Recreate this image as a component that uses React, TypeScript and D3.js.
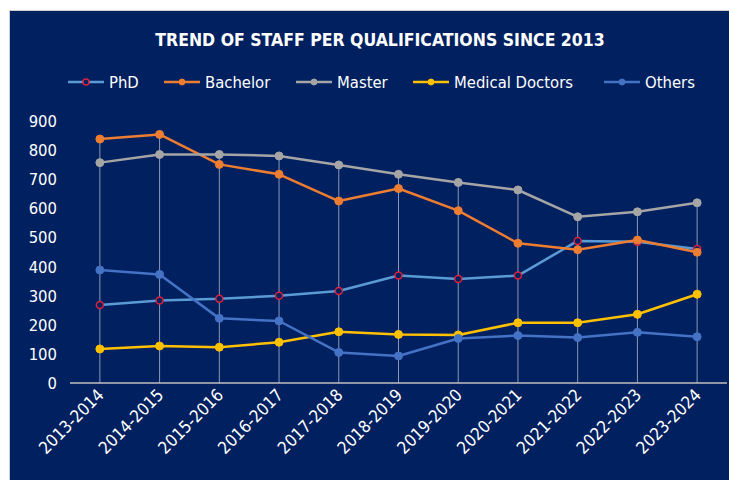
import { useRef, useEffect } from "react";
import * as d3 from "d3";

const years = [
  "2013-2014", "2014-2015", "2015-2016", "2016-2017", "2017-2018", "2018-2019",
  "2019-2020", "2020-2021", "2021-2022", "2022-2023", "2023-2024",
];
const phd = [268, 283, 289, 300, 316, 369, 357, 369, 488, 485, 460];
const bachelor = [838, 854, 751, 717, 625, 668, 592, 480, 458, 491, 449];
const master = [757, 785, 785, 780, 749, 717, 689, 663, 571, 588, 619];
const medical = [117, 127, 123, 140, 176, 167, 165, 207, 207, 236, 305];
const others = [388, 373, 222, 213, 105, 93, 153, 163, 156, 174, 159];
const yTicks = [0, 100, 200, 300, 400, 500, 600, 700, 800, 900];

const series = [
  { name: "PhD", values: phd, color: "#5B9BD5", hollow: true },
  { name: "Bachelor", values: bachelor, color: "#ED7D31", hollow: false },
  { name: "Master", values: master, color: "#A5A5A5", hollow: false },
  { name: "Medical Doctors", values: medical, color: "#FFC000", hollow: false },
  { name: "Others", values: others, color: "#4472C4", hollow: false },
];
const legendX = [68, 164, 296, 413, 604];

const font = "'Liberation Sans Narrow', 'DejaVu Sans Condensed', 'Liberation Sans', sans-serif";

function App() {
  const svgRef = useRef<SVGSVGElement>(null);

  useEffect(() => {
    const w = 729;
    const h = 480;
    const svg = d3.select(svgRef.current).attr("width", w).attr("height", h);
    svg.selectAll("*").remove();

    svg.append("rect").attr("width", w).attr("height", h).attr("fill", "#ffffff");
    svg.append("rect")
      .attr("x", 9.5).attr("y", 10.5)
      .attr("width", w - 9).attr("height", h - 10)
      .attr("fill", "#002060")
      .attr("stroke", "#d0d0d0");

    const x = d3.scaleBand().domain(years).range([70, 727]);
    const y = d3.scaleLinear().domain([0, 900]).range([383, 121]);
    const cx = (d: string) => (x(d) as number) + x.bandwidth() / 2;

    svg.append("text")
      .attr("x", 380).attr("y", 46)
      .attr("text-anchor", "middle")
      .attr("fill", "#ffffff")
      .style("font-family", font)
      .style("font-size", "17.5px")
      .style("font-weight", "bold")
      .text("TREND OF STAFF PER QUALIFICATIONS SINCE 2013");

    // legend
    series.forEach((s, i) => {
      const g = svg.append("g").attr("transform", `translate(${legendX[i]},82)`);
      g.append("line").attr("x1", 0).attr("x2", 36).attr("stroke", s.color).attr("stroke-width", 2.5);
      g.append("circle").attr("cx", 18).attr("r", 3)
        .attr("fill", s.hollow ? "#002060" : s.color)
        .attr("stroke", s.hollow ? "#E0203A" : s.color)
        .attr("stroke-width", s.hollow ? 1.5 : 1);
      g.append("text").attr("x", 41).attr("y", 6)
        .attr("fill", "#ffffff")
        .style("font-family", font)
        .style("font-size", "16.5px")
        .text(s.name);
    });

    // y tick labels
    svg.append("g").selectAll("text").data(yTicks).enter().append("text")
      .attr("x", 57).attr("y", d => y(d) + 6)
      .attr("text-anchor", "end")
      .attr("fill", "#ffffff")
      .style("font-family", font)
      .style("font-size", "16.5px")
      .text(d => d);

    // drop lines
    svg.append("g").selectAll("line").data(years).enter().append("line")
      .attr("x1", d => cx(d)).attr("x2", d => cx(d))
      .attr("y1", (d, i) => y(d3.max(series, s => s.values[i]) as number))
      .attr("y2", y(0))
      .attr("stroke", "#8C98B3").attr("stroke-width", 1);

    // x axis
    svg.append("line")
      .attr("x1", 70).attr("x2", 727)
      .attr("y1", y(0)).attr("y2", y(0))
      .attr("stroke", "#BFBFBF").attr("stroke-width", 1.5);

    svg.append("g").selectAll("text").data(years).enter().append("text")
      .attr("transform", d => `translate(${cx(d) + 5},${y(0) + 13}) rotate(-45)`)
      .attr("text-anchor", "end")
      .attr("fill", "#ffffff")
      .style("font-family", font)
      .style("font-size", "17px")
      .text(d => d);

    const line = d3.line<number>()
      .x((d, i) => cx(years[i]))
      .y(d => y(d));

    series.forEach(s => {
      svg.append("path")
        .datum(s.values)
        .attr("d", line)
        .attr("fill", "none")
        .attr("stroke", s.color)
        .attr("stroke-width", 2.5)
        .attr("stroke-linejoin", "round");
    });

    series.forEach(s => {
      svg.append("g").selectAll("circle").data(s.values).enter().append("circle")
        .attr("cx", (d, i) => cx(years[i]))
        .attr("cy", d => y(d))
        .attr("r", s.hollow ? 3.5 : 4)
        .attr("fill", s.hollow ? "#002060" : s.color)
        .attr("stroke", s.hollow ? "#E0203A" : s.color)
        .attr("stroke-width", s.hollow ? 1.5 : 1);
    });
  }, []);

  return (
    <div style={{ position: "absolute", left: 0, top: 0 }}>
      <svg ref={svgRef} style={{ display: "block" }} />
    </div>
  );
}

export default App;
